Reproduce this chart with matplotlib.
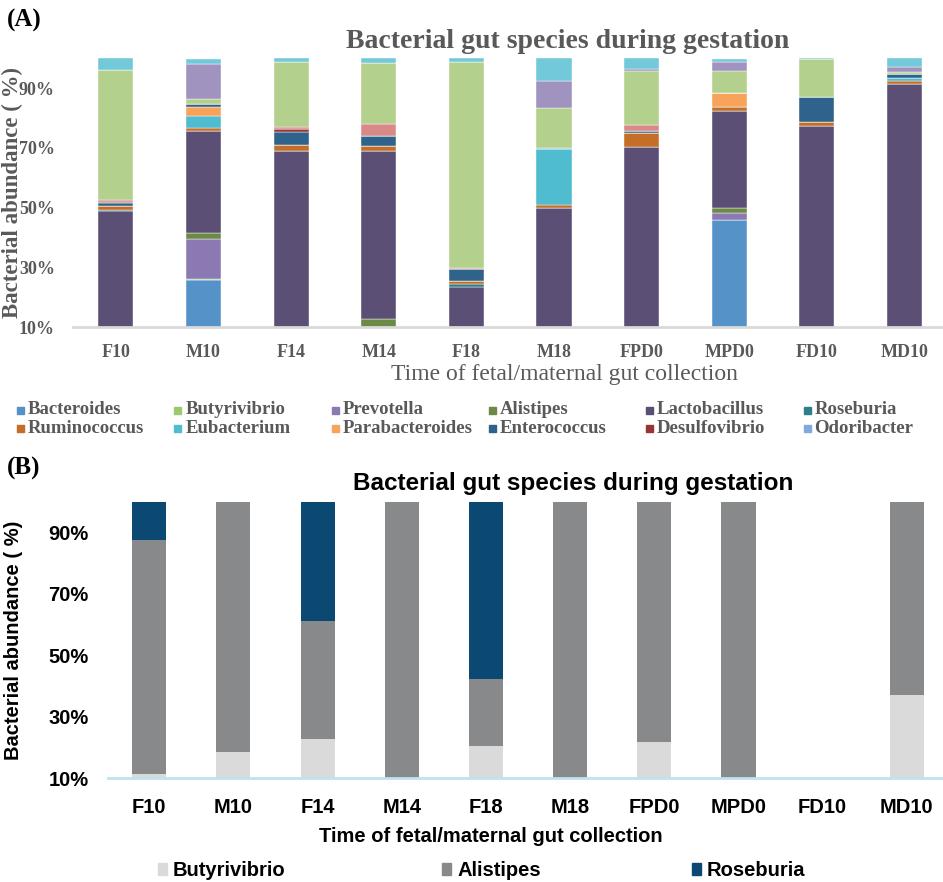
import numpy as np
import matplotlib
matplotlib.use('Agg')
import matplotlib.pyplot as plt
from matplotlib.patches import Rectangle

W, H = 943, 882

samples = ['F10', 'M10', 'F14', 'M14', 'F18', 'M18', 'FPD0', 'MPD0', 'FD10', 'MD10']

# ---- panel A: relative abundance (%) per genus, stacked bottom -> top ----
bacteroides = [0, 25.8, 0, 0, 0, 0, 0, 45.9, 0, 0]
butyrivibrio = [0, 0.4, 0, 0, 0, 0, 0, 0, 0, 0]
prevotella = [0, 13.3, 0, 0, 0, 0, 0, 2.2, 0, 0]
alistipes = [0, 1.9, 0, 12.9, 0, 0, 0, 1.9, 0, 0]
lactobacillus = [49.0, 34.3, 68.9, 56.0, 23.4, 49.9, 70.3, 32.5, 77.4, 91.4]
roseburia = [0.4, 0, 0, 0, 1.0, 0, 0, 0, 0, 0]
ruminococcus = [1.3, 1.1, 2.0, 1.7, 1.0, 1.1, 4.8, 1.1, 1.4, 1.1]
eubacterium = [0, 3.9, 0, 0, 0, 18.5, 0, 0, 0, 0.9]
parabacteroides = [0, 3.0, 0, 0, 0, 0, 0, 4.9, 0, 0]
enterococcus = [0.8, 1.1, 4.6, 3.5, 4.0, 0.6, 0.6, 0, 8.4, 1.3]
desulfovibrio = [0.5, 0, 1.0, 0, 0, 0, 0, 0, 0, 0]
odoribacter = [0, 0, 0, 0, 0, 0, 0, 0, 0, 0]
# remaining genera (not listed in the legend)
other1 = [0.5, 0, 0.4, 4.0, 0.5, 0, 2.0, 0, 0, 0]
other2 = [43.5, 1.7, 22.0, 20.2, 68.8, 13.4, 18.0, 7.2, 12.5, 0.7]
other3 = [0, 11.7, 0, 0, 0, 8.9, 0.6, 3.1, 0, 1.8]
other4 = [4.0, 1.7, 1.1, 1.7, 1.3, 7.6, 3.7, 1.1, 0.3, 2.8]

legend_names = ['Bacteroides', 'Butyrivibrio', 'Prevotella', 'Alistipes',
                'Lactobacillus', 'Roseburia', 'Ruminococcus', 'Eubacterium',
                'Parabacteroides', 'Enterococcus', 'Desulfovibrio', 'Odoribacter']

# ---- panel B: Butyrivibrio / Alistipes / Roseburia only ----
b_names = ['Butyrivibrio', 'Alistipes', 'Roseburia']
b_butyrivibrio = [11.4, 18.7, 22.9, 0, 20.6, 0, 21.8, 0, 0, 37.1]
b_alistipes = [76.1, 81.3, 38.4, 100, 21.6, 100, 78.2, 100, 0, 62.9]
b_roseburia = [12.5, 0, 38.7, 0, 57.8, 0, 0, 0, 0, 0]

yticks = [10, 30, 50, 70, 90]

COLORS_A = ['#5592C8', '#9DC870', '#8B79B3', '#6B8A45', '#5B4F75', '#2E7F8C',
            '#C46E27', '#4FBCD0', '#F7A35C', '#30638C', '#943634', '#7FAADC',
            '#D98A88', '#B3D18D', '#A093C0', '#72C9D9']
COLORS_B = ['#DADADA', '#88898B', '#0B4872']
GREY_TXT = '#595959'
SERIF = 'Liberation Serif'
SANS = 'Liberation Sans'


def px(x, y):
    return x / W, 1 - y / H


def axes_box(left, top, right, bottom):
    return [left / W, 1 - bottom / H, (right - left) / W, (bottom - top) / H]


fig = plt.figure(figsize=(W / 100, H / 100), dpi=100)
x = np.arange(len(samples))

# ---------------- panel A ----------------
axA = fig.add_axes(axes_box(73, 58.3, 943, 327.3))
series_a = [bacteroides, butyrivibrio, prevotella, alistipes, lactobacillus,
            roseburia, ruminococcus, eubacterium, parabacteroides, enterococcus,
            desulfovibrio, odoribacter, other1, other2, other3, other4]
bottom = np.zeros(len(samples))
for vals, col in zip(series_a, COLORS_A):
    vals = np.array(vals, dtype=float)
    axA.bar(x, vals, bottom=bottom, width=0.4, color=col,
            edgecolor='white', linewidth=0.3)
    bottom += vals

axA.set_xlim(-0.49, 9.44)
axA.set_ylim(10, 100)
axA.set_yticks(yticks)
axA.set_yticklabels([f'{t}%' for t in yticks], family=SERIF, fontweight='bold',
                    fontsize=13, color=GREY_TXT)
axA.set_xticks(x)
axA.set_xticklabels(samples, family=SERIF, fontweight='bold', fontsize=13,
                    color=GREY_TXT)
axA.tick_params(axis='both', length=0)
axA.tick_params(axis='x', pad=12)
axA.tick_params(axis='y', pad=13)
for s in ['top', 'right', 'left']:
    axA.spines[s].set_visible(False)
axA.spines['bottom'].set_color('#D9D9D9')
axA.spines['bottom'].set_linewidth(2)
# the axis title sits over the tick labels, as in the original figure
axA.set_ylabel('Bacterial abundance ( %)', family=SERIF, fontweight='bold',
               fontsize=16.5, color=GREY_TXT)
axA.yaxis.set_label_coords(-0.057, 0.5)

fig.text(*px(568, 42), 'Bacterial gut species during gestation', family=SERIF,
         fontweight='bold', fontsize=20, color=GREY_TXT, ha='center', va='center')
fig.text(*px(564, 375), 'Time of fetal/maternal gut collection', family=SERIF,
         fontsize=17, color=GREY_TXT, ha='center', va='center')
fig.text(*px(7, 20), '(A)', family=SERIF, fontweight='bold', fontsize=18,
         color='black', ha='left', va='center')

# legend, filled row by row
for i, (name, col) in enumerate(zip(legend_names, COLORS_A)):
    r, c = divmod(i, 6)
    lx = 17 + c * 157.3
    ly = 410 + r * 18.5
    fig.patches.append(Rectangle(px(lx, ly + 3.5), 7 / W, 7 / H,
                                 transform=fig.transFigure, color=col))
    fig.text(*px(lx + 11, ly), name, family=SERIF, fontweight='bold',
             fontsize=13.5, color=GREY_TXT, ha='left', va='center')

# ---------------- panel B ----------------
axB = fig.add_axes(axes_box(108, 501.5, 943, 778.3))
bottom = np.zeros(len(samples))
for vals, col, name in zip([b_butyrivibrio, b_alistipes, b_roseburia], COLORS_B, b_names):
    vals = np.array(vals, dtype=float)
    axB.bar(x, vals, bottom=bottom, width=0.405, color=col, label=name)
    bottom += vals

axB.set_xlim(-0.49, 9.43)
axB.set_ylim(10, 100)
axB.set_yticks(yticks)
axB.set_yticklabels([f'{t}%' for t in yticks], family=SANS, fontweight='bold',
                    fontsize=14.5, color='black')
axB.set_xticks(x)
axB.set_xticklabels(samples, family=SANS, fontweight='bold', fontsize=14.5,
                    color='black')
axB.tick_params(axis='both', length=0)
axB.tick_params(axis='x', pad=14)
axB.tick_params(axis='y', pad=14)
for s in ['top', 'right', 'left']:
    axB.spines[s].set_visible(False)
axB.spines['bottom'].set_color('#BFE2F2')
axB.spines['bottom'].set_linewidth(2)
axB.set_ylabel('Bacterial abundance ( %)', family=SANS, fontweight='bold',
               fontsize=14.5, color='black')
axB.yaxis.set_label_coords(-0.102, 0.5)

fig.text(*px(573, 483), 'Bacterial gut species during gestation', family=SANS,
         fontweight='bold', fontsize=17.5, color='black', ha='center', va='center')
fig.text(*px(491, 836), 'Time of fetal/maternal gut collection', family=SANS,
         fontweight='bold', fontsize=14.5, color='black', ha='center', va='center')
fig.text(*px(7, 468), '(B)', family=SERIF, fontweight='bold', fontsize=18,
         color='black', ha='left', va='center')

for name, col, lx in zip(b_names, COLORS_B, [157.5, 442, 691.5]):
    fig.patches.append(Rectangle(px(lx, 875), 9 / W, 12 / H,
                                 transform=fig.transFigure, color=col))
    fig.text(*px(lx + 15, 870), name, family=SANS, fontweight='bold',
             fontsize=14.5, color='black', ha='left', va='center')

fig.savefig('out.png', dpi=100, facecolor='white')
